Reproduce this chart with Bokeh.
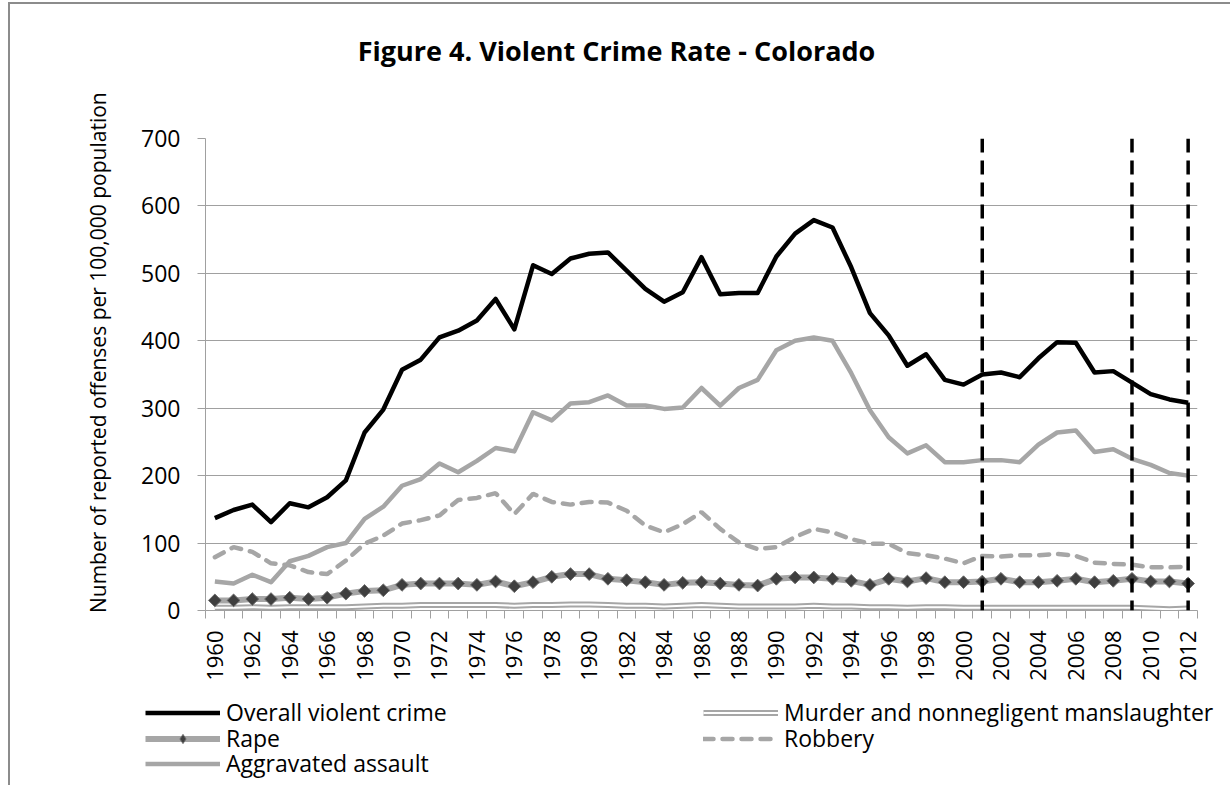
import math
from bokeh.plotting import figure
from bokeh.layouts import column
from bokeh.models import Range1d, FixedTicker, Legend, LegendItem, Span, Label
from bokeh.embed import file_html
from bokeh.resources import INLINE

# ---------------- data ----------------
years = list(range(1960, 2013))

overall = [137, 149, 157, 131, 159, 153, 168, 193, 264, 298,
           357, 372, 405, 415, 430, 462, 417, 512, 499, 522,
           529, 531, 504, 477, 458, 472, 524, 469, 471, 471,
           525, 559, 579, 568, 509, 441, 408, 363, 380, 342,
           335, 350, 353, 346, 374, 398, 397, 353, 355, 338,
           321, 313, 308]

murder = [4, 4, 5, 4, 5, 5, 5, 5, 6, 7,
          7, 8, 8, 8, 8, 8, 7, 8, 8, 9,
          9, 8, 7, 7, 6, 7, 8, 7, 6, 6,
          6, 6, 7, 6, 6, 5, 5, 4, 5, 5,
          4, 4, 4, 4, 4, 4, 4, 4, 4, 4,
          3, 2, 3]

rape = [15, 15, 17, 17, 19, 17, 19, 25, 29, 30,
        38, 40, 40, 40, 38, 43, 36, 42, 50, 54,
        54, 47, 45, 42, 38, 41, 42, 40, 38, 37,
        47, 49, 49, 47, 44, 38, 47, 43, 48, 42,
        42, 43, 47, 42, 42, 44, 47, 42, 44, 47,
        43, 43, 40]

robbery = [79, 94, 87, 70, 67, 57, 54, 74, 99, 111,
           129, 134, 141, 164, 167, 174, 143, 173, 161, 157,
           161, 160, 148, 126, 116, 128, 146, 121, 101, 91,
           94, 109, 121, 116, 106, 99, 99, 85, 82, 77,
           70, 81, 80, 82, 82, 84, 81, 71, 69, 68,
           64, 64, 65]

assault = [43, 40, 53, 42, 73, 81, 94, 100, 136, 154,
           185, 195, 218, 205, 222, 241, 236, 294, 282, 307,
           309, 319, 304, 304, 299, 301, 330, 304, 330, 342,
           386, 400, 405, 400, 352, 297, 257, 233, 245, 220,
           220, 223, 223, 220, 246, 264, 267, 235, 239, 225,
           216, 204, 200]

marker_years = [2001, 2009, 2012]
y_ticks = [0, 100, 200, 300, 400, 500, 600, 700]
label_years = years[::2]

title_text = "Figure 4. Violent Crime Rate - Colorado"
y_title = "Number of reported offenses per 100,000 population"
series_names = ["Overall violent crime", "Murder and nonnegligent manslaughter",
                "Rape", "Robbery", "Aggravated assault"]

# ---------------- styles ----------------
GRAY = "#a6a6a6"
AXIS_GRAY = "#a0a0a0"
FONT = "Open Sans"
W = 1220


def draw_series(fig, rape_marker="square", rape_angle=math.pi / 4, rape_size=9):
    """Draw all five series on a figure; returns renderers keyed by name."""
    r = {}
    r["murder"] = [fig.line(years, murder, line_color=GRAY, line_width=6),
                   fig.line(years, murder, line_color="white", line_width=2)]
    r["rape"] = [fig.line(years, rape, line_color=GRAY, line_width=6),
                 fig.scatter(years, rape, marker=rape_marker, angle=rape_angle,
                             size=rape_size, fill_color="#3f3f3f",
                             line_color="#6a6a6a", line_width=1)]
    r["robbery"] = [fig.line(years, robbery, line_color=GRAY, line_width=4.5,
                             line_dash="10 9", line_cap="round")]
    r["assault"] = [fig.line(years, assault, line_color=GRAY, line_width=4.5,
                             line_join="round")]
    r["overall"] = [fig.line(years, overall, line_color="black", line_width=4.5,
                             line_join="round")]
    return r


def blank_strip(height):
    f = figure(width=W, height=height, output_backend="svg", toolbar_location=None,
               x_axis_location=None, y_axis_location=None,
               x_range=Range1d(0, 1), y_range=Range1d(0, 1),
               min_border_left=0, min_border_right=0,
               min_border_top=0, min_border_bottom=0)
    f.frame_align = False
    f.outline_line_color = None
    f.xgrid.grid_line_color = None
    f.ygrid.grid_line_color = None
    f.background_fill_color = "white"
    f.border_fill_color = "white"
    return f


# ---------------- title strip ----------------
t = blank_strip(64)
t.add_layout(Label(x=606, y=18, x_units="screen", y_units="screen", text=title_text,
                   text_align="center", text_baseline="middle", text_font=FONT,
                   text_font_style="bold", text_font_size="27px", text_color="black"))

# ---------------- main chart ----------------
p = figure(width=W, height=617, output_backend="svg", toolbar_location=None,
           x_range=Range1d(years[0] - 0.5, years[-1] + 0.5),
           y_range=Range1d(y_ticks[0], y_ticks[-1]),
           min_border_left=195, min_border_right=33,
           min_border_top=70, min_border_bottom=75)
p.frame_align = False
p.outline_line_color = None
p.background_fill_color = "white"
p.border_fill_color = "white"

p.xaxis.ticker = FixedTicker(ticks=label_years,
                             minor_ticks=[y - 0.5 for y in years] + [years[-1] + 0.5])
p.xaxis.major_tick_line_color = None
p.xaxis.major_tick_out = 0
p.xaxis.major_tick_in = 0
p.xaxis.minor_tick_line_color = AXIS_GRAY
p.xaxis.minor_tick_out = 8
p.xaxis.minor_tick_in = 0
p.xaxis.major_label_orientation = math.pi / 2
p.xaxis.major_label_standoff = 12
p.xaxis.major_label_text_font = FONT
p.xaxis.major_label_text_font_size = "22px"
p.xaxis.major_label_text_color = "black"
p.xaxis.axis_line_color = AXIS_GRAY

p.yaxis.ticker = FixedTicker(ticks=y_ticks)
p.yaxis.major_tick_line_color = AXIS_GRAY
p.yaxis.major_tick_out = 8
p.yaxis.major_tick_in = 0
p.yaxis.minor_tick_line_color = None
p.yaxis.major_label_standoff = 17
p.yaxis.major_label_text_font = FONT
p.yaxis.major_label_text_font_size = "23px"
p.yaxis.major_label_text_color = "black"
p.yaxis.axis_line_color = AXIS_GRAY
p.yaxis.axis_label = "\u00a0" * 8 + y_title
p.yaxis.axis_label_text_font = FONT
p.yaxis.axis_label_text_font_size = "21px"
p.yaxis.axis_label_text_font_style = "normal"
p.yaxis.axis_label_text_color = "black"
p.yaxis.axis_label_standoff = 26

p.xgrid.grid_line_color = None
p.ygrid.ticker = FixedTicker(ticks=y_ticks)
p.ygrid.grid_line_color = AXIS_GRAY
p.ygrid.grid_line_width = 1

draw_series(p)

for yr in marker_years:
    p.add_layout(Span(location=yr, dimension="height", line_color="black",
                      line_width=3.5, line_dash="14 8"))

# ---------------- legend strip (same series, shown only as legend keys) ----------------
q = blank_strip(100)
lr = draw_series(q, rape_marker="diamond", rape_angle=0, rape_size=14)


def make_legend(label, renderers, loc):
    return Legend(items=[LegendItem(label=label, renderers=renderers)], location=loc,
                  orientation="vertical", border_line_color=None,
                  background_fill_alpha=0, margin=0, padding=0,
                  glyph_width=75, glyph_height=23, label_height=23, spacing=0,
                  label_standoff=6, label_text_font=FONT,
                  label_text_font_size="23px", label_text_color="black")


# two legend columns, one legend per row so the rows sit exactly as in the source
q.add_layout(make_legend(series_names[0], lr["overall"], (135, 57)), "center")
q.add_layout(make_legend(series_names[2], lr["rape"], (135, 31)), "center")
q.add_layout(make_legend(series_names[4], lr["assault"], (135, 6)), "center")
q.add_layout(make_legend(series_names[1], lr["murder"], (693, 57)), "center")
q.add_layout(make_legend(series_names[3], lr["robbery"], (693, 31)), "center")

layout = column(t, p, q, spacing=0,
                styles={"margin-left": "8px", "margin-top": "2px",
                        "border-left": "2px solid #8c8c8c",
                        "border-top": "2px solid #8c8c8c"})

open("out.html", "w").write(file_html(layout, INLINE))
